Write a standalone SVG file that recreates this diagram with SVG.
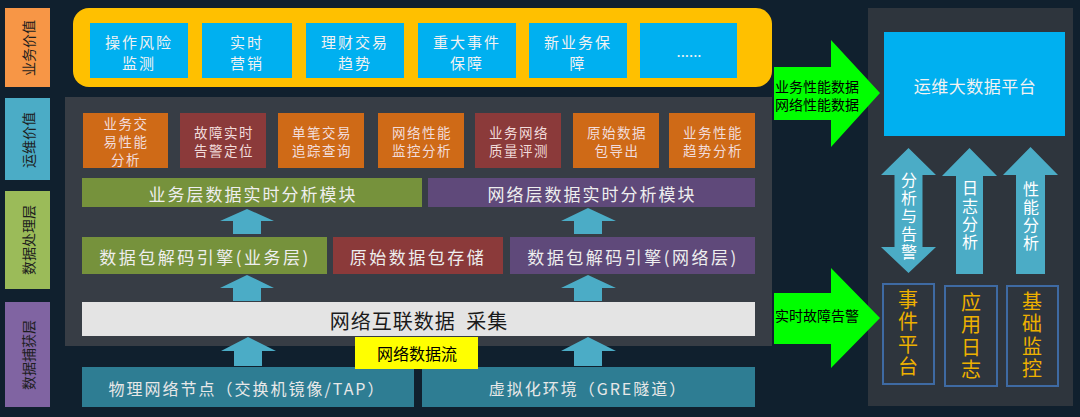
<svg xmlns="http://www.w3.org/2000/svg" width="1080" height="417" viewBox="0 0 1080 417">
<defs>
<style>
text{font-family:"Noto Sans CJK SC","Noto Sans",sans-serif;text-anchor:middle;dominant-baseline:central}
.lbl{font-size:14px;fill:#1e1e1e}
.biz{fill:#00B0F0}
.biz-t{font-size:15px;fill:#F2F2F2;letter-spacing:2px}
.ops-t{font-size:13.5px;fill:#F2DCDB;letter-spacing:1.5px}
.bar-t{font-size:17px;fill:#EEEEEE;letter-spacing:2px}
.eng-t{font-size:17px;fill:#EEEEEE;letter-spacing:2.5px}
.src-t{font-size:16px;fill:#E8E8E8;letter-spacing:2px}
.or{fill:#CF6A17}
.rd{fill:#8B3A3A}
.gn{fill:#76923C}
.pu{fill:#5F497A}
.teal{fill:#2E7D93}
.up{fill:#4BACC6}
.ga{fill:#00FF00}
.ga-t{font-size:14px;fill:#000}
.vt{writing-mode:vertical-rl;text-orientation:upright}
.va-t{font-size:16px;fill:#FFFFFF;letter-spacing:2px}
.sys{fill:none;stroke:#3E6AA3;stroke-width:2}
.sys-t{font-size:20px;fill:#EDB000;letter-spacing:2.5px}
</style>
</defs>
<rect width="1080" height="417" fill="#10202E"/>

<g id="labels">
<rect x="5" y="8" width="45" height="79" fill="#F79646"/>
<text class="lbl" transform="translate(28,48) rotate(-90)">业务价值</text>
<rect x="5" y="98" width="45" height="82" fill="#4BACC6"/>
<text class="lbl" transform="translate(28,140) rotate(-90)">运维价值</text>
<rect x="5" y="191" width="45" height="98" fill="#9BBB59"/>
<text class="lbl" transform="translate(28,240) rotate(-90)">数据处理层</text>
<rect x="5" y="302" width="45" height="105" fill="#8064A2"/>
<text class="lbl" transform="translate(28,355) rotate(-90)">数据捕获层</text>
</g>

<g id="business-value">
<rect x="73" y="8" width="699" height="79" rx="16" fill="#FFC000"/>
<g id="biz1"><rect class="biz" x="90" y="23" width="98" height="55"/><text class="biz-t" x="139" y="41">操作风险<tspan x="139" dy="21">监测</tspan></text></g>
<g id="biz2"><rect class="biz" x="202" y="23" width="90" height="55"/><text class="biz-t" x="247" y="41">实时<tspan x="247" dy="21">营销</tspan></text></g>
<g id="biz3"><rect class="biz" x="306" y="23" width="98" height="55"/><text class="biz-t" x="355" y="41">理财交易<tspan x="355" dy="21">趋势</tspan></text></g>
<g id="biz4"><rect class="biz" x="418" y="23" width="98" height="55"/><text class="biz-t" x="467" y="41">重大事件<tspan x="467" dy="21">保障</tspan></text></g>
<g id="biz5"><rect class="biz" x="529" y="23" width="98" height="55"/><text class="biz-t" x="578" y="41">新业务保<tspan x="578" dy="21">障</tspan></text></g>
<g id="biz6"><rect class="biz" x="640" y="23" width="97" height="55"/><text class="biz-t" x="689" y="50" style="letter-spacing:0">......</text></g>
</g>

<g id="middle-panel">
<rect x="65" y="97" width="707" height="249" fill="#373D45"/>
</g>

<g id="ops-value">
<g id="ops1"><rect class="or" x="83" y="113" width="85" height="55"/><text class="ops-t" x="126" y="123">业务交<tspan x="126" dy="18">易性能</tspan><tspan x="126" dy="18">分析</tspan></text></g>
<g id="ops2"><rect class="rd" x="180" y="113" width="86" height="55"/><text class="ops-t" x="224" y="132">故障实时<tspan x="224" dy="18">告警定位</tspan></text></g>
<g id="ops3"><rect class="or" x="278" y="113" width="86" height="55"/><text class="ops-t" x="322" y="132">单笔交易<tspan x="322" dy="18">追踪查询</tspan></text></g>
<g id="ops4"><rect class="or" x="378" y="113" width="86" height="55"/><text class="ops-t" x="422" y="132">网络性能<tspan x="422" dy="18">监控分析</tspan></text></g>
<g id="ops5"><rect class="rd" x="475" y="113" width="86" height="55"/><text class="ops-t" x="519" y="132">业务网络<tspan x="519" dy="18">质量评测</tspan></text></g>
<g id="ops6"><rect class="or" x="573" y="113" width="86" height="55"/><text class="ops-t" x="617" y="132">原始数据<tspan x="617" dy="18">包导出</tspan></text></g>
<g id="ops7"><rect class="or" x="669" y="113" width="86" height="55"/><text class="ops-t" x="713" y="132">业务性能<tspan x="713" dy="18">趋势分析</tspan></text></g>
</g>

<g id="bizAnalysis"><rect class="gn" x="82" y="178" width="340" height="29"/><text class="bar-t" x="253" y="193">业务层数据实时分析模块</text></g>
<g id="netAnalysis"><rect class="pu" x="428" y="178" width="327" height="29"/><text class="bar-t" x="592" y="193">网络层数据实时分析模块</text></g>

<g id="bizEngine"><rect class="gn" x="82" y="237" width="245" height="37"/><text class="eng-t" x="205" y="256">数据包解码引擎(业务层)</text></g>
<g id="rawStore"><rect class="rd" x="333" y="237" width="170" height="37"/><text class="eng-t" x="418" y="256">原始数据包存储</text></g>
<g id="netEngine"><rect class="pu" x="510" y="237" width="245" height="37"/><text class="eng-t" x="633" y="256">数据包解码引擎(网络层)</text></g>

<g id="collect"><rect x="82" y="302" width="673" height="34" fill="#E4E4E4"/><text x="419" y="320" style="font-size:20px;fill:#1a1a1a;letter-spacing:1px">网络互联数据 <tspan dx="5">采集</tspan></text></g>

<g id="phys"><rect class="teal" x="82" y="367" width="332" height="40"/><text class="src-t" x="247" y="388">物理网络节点（交换机镜像/TAP）</text></g>
<g id="virt"><rect class="teal" x="422" y="367" width="333" height="40"/><text class="src-t" x="588" y="388">虚拟化环境（GRE隧道）</text></g>

<g id="right-panel">
<rect x="868" y="8" width="205" height="398" fill="#2E353D"/>
</g>
<g id="platform"><rect x="884" y="32" width="181" height="104" fill="#00B0F0"/><text x="975" y="85" style="font-size:17px;fill:#F2F2F2;letter-spacing:0.5px">运维大数据平台</text></g>

<g id="event"><rect class="sys" x="883" y="284" width="51" height="100"/><text class="sys-t vt" x="908" y="334">事件平台</text></g>
<g id="applog"><rect class="sys" x="945" y="286" width="52" height="100"/><text class="sys-t vt" x="971" y="337">应用日志</text></g>
<g id="basemon"><rect class="sys" x="1007" y="286" width="51" height="100"/><text class="sys-t vt" x="1032" y="336">基础监控</text></g>

<g id="connectors">
<polygon class="up" points="247,209 274,221 261,221 261,234 233,234 233,221 220,221"/>
<polygon class="up" points="247,275 274,288 261,288 261,301 233,301 233,288 220,288"/>
<polygon class="up" points="248,337 276,351 262,351 262,366 234,366 234,351 221,351"/>
<polygon class="up" points="588,208 616,221 602,221 602,234 574,234 574,221 561,221"/>
<polygon class="up" points="588,275 616,288 602,288 602,301 574,301 574,288 561,288"/>
<polygon class="up" points="588,337 616,351 602,351 602,366 574,366 574,351 561,351"/>

<polygon class="ga" points="774,67 831,67 831,40 880,93 831,147 831,120 774,120"/>
<text class="ga-t" x="817" y="86">业务性能数据<tspan x="817" dy="18">网络性能数据</tspan></text>
<polygon class="ga" points="774,293 831,293 831,268 880,318 831,368 831,344 774,344"/>
<text class="ga-t" x="817" y="315">实时故障告警</text>

<polygon class="up" points="908.5,148 936,175 922.5,175 922.5,247 936,247 908.5,273 881,247 894.5,247 894.5,175 881,175"/>
<text class="va-t vt" x="909" y="217">分析与告警</text>
<polygon class="up" points="969.5,148 997,176 983,176 983,274 956,274 956,176 942,176"/>
<text class="va-t vt" x="970" y="216">日志分析</text>
<polygon class="up" points="1030.5,147 1058,175 1045,175 1045,274 1016,274 1016,175 1003,175"/>
<text class="va-t vt" x="1031" y="217">性能分析</text>
</g>

<g id="dataflow"><rect x="355" y="337" width="123" height="32" fill="#FFFF00"/><text x="417" y="353" style="font-size:16px;fill:#000">网络数据流</text></g>
</svg>
